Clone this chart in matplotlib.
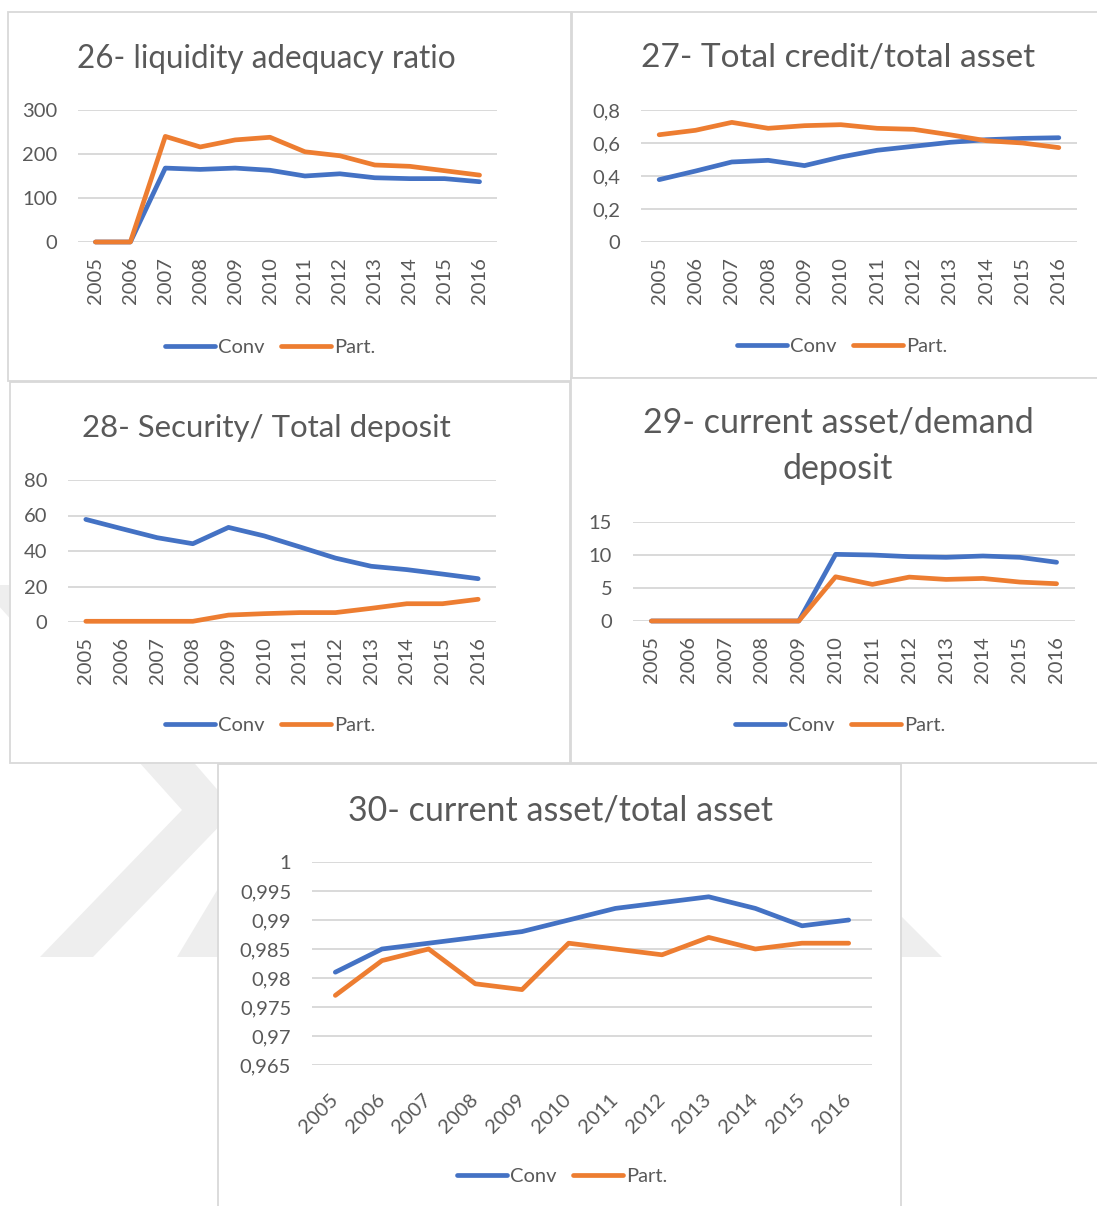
import matplotlib
matplotlib.use("Agg")
import matplotlib.pyplot as plt
from matplotlib.patches import Polygon, Rectangle

W, H = 1097, 1206
BLUE, ORANGE, GRID, TXT, BORDER, WM = "#4472C4", "#ED7D31", "#D9D9D9", "#595959", "#D9D9D9", "#EEEEEE"
plt.rcParams.update({"font.family": ["Lato", "DejaVu Sans"], "text.color": TXT})

YEARS = ["2005", "2006", "2007", "2008", "2009", "2010",
         "2011", "2012", "2013", "2014", "2015", "2016"]

# 26- liquidity adequacy ratio
LIQ_CONV = [0, 0, 168, 165, 168, 163, 150, 155, 146, 144, 144, 137]
LIQ_PART = [0, 0, 240, 216, 232, 238, 205, 196, 175, 172, 162, 152]
LIQ_TICKS = [0, 100, 200, 300]
LIQ_LABELS = ["0", "100", "200", "300"]

# 27- Total credit/total asset
CRED_CONV = [0.378, 0.43, 0.485, 0.495, 0.463, 0.515, 0.556, 0.58, 0.604, 0.62, 0.628, 0.632]
CRED_PART = [0.65, 0.677, 0.725, 0.689, 0.705, 0.711, 0.689, 0.683, 0.65, 0.614, 0.6, 0.572]
CRED_TICKS = [0, 0.2, 0.4, 0.6, 0.8]
CRED_LABELS = ["0", "0,2", "0,4", "0,6", "0,8"]

# 28- Security/ Total deposit
SEC_CONV = [57.8, 52.6, 47.5, 44.1, 53.3, 48.5, 42.3, 36.0, 31.4, 29.5, 27.0, 24.4]
SEC_PART = [0.4, 0.4, 0.4, 0.4, 3.9, 4.7, 5.3, 5.3, 7.7, 10.3, 10.3, 12.8]
SEC_TICKS = [0, 20, 40, 60, 80]
SEC_LABELS = ["0", "20", "40", "60", "80"]

# 29- current asset/demand deposit
DEM_CONV = [0, 0, 0, 0, 0, 10.1, 10.0, 9.75, 9.65, 9.85, 9.65, 8.9]
DEM_PART = [0, 0, 0, 0, 0, 6.7, 5.55, 6.65, 6.3, 6.45, 5.9, 5.65]
DEM_TICKS = [0, 5, 10, 15]
DEM_LABELS = ["0", "5", "10", "15"]

# 30- current asset/total asset
CUR_CONV = [0.981, 0.985, 0.986, 0.987, 0.988, 0.990, 0.992, 0.993, 0.994, 0.992, 0.989, 0.990]
CUR_PART = [0.977, 0.983, 0.985, 0.979, 0.978, 0.986, 0.985, 0.984, 0.987, 0.985, 0.986, 0.986]
CUR_TICKS = [0.965, 0.97, 0.975, 0.98, 0.985, 0.99, 0.995, 1.0]
CUR_LABELS = ["0,965", "0,97", "0,975", "0,98", "0,985", "0,99", "0,995", "1"]

TICK_FS = 14.5
fig = plt.figure(figsize=(W / 100, H / 100), dpi=100)


def fx(x):
    return x / W


def fy(y):
    return 1 - y / H


# background: faint watermark chevrons + white chart boxes
bg = fig.add_axes([0, 0, 1, 1])
bg.set_xlim(0, W); bg.set_ylim(H, 0); bg.axis("off")
bg.add_patch(Polygon([(-20, 585), (40, 585), (235, 810), (93, 957), (40, 957), (182, 810)],
                     facecolor=WM, edgecolor="none", zorder=1))
bg.add_patch(Polygon([(177, 957), (942, 957), (902, 917), (600, 917), (600, 790), (300, 752)],
                     facecolor=WM, edgecolor="none", zorder=1))
for x0, y0, x1, y1 in [(8, 12, 571, 381), (572, 12, 1102, 378), (10, 382, 570, 763),
                       (571, 378, 1102, 763), (218, 764, 901, 1212)]:
    bg.add_patch(Rectangle((x0, y0), x1 - x0, y1 - y0, facecolor="white",
                           edgecolor=BORDER, lw=1.3, zorder=2))


def chart(box, conv, part, ticks, labels, rot=90):
    x0, y0, x1, y1 = box
    ax = fig.add_axes([fx(x0), fy(y1), (x1 - x0) / W, (y1 - y0) / H])
    ax.patch.set_visible(False)
    xs = list(range(len(YEARS)))
    ax.plot(xs, conv, color=BLUE, lw=3.4, solid_capstyle="round", solid_joinstyle="round",
            clip_on=False, label="Conv", zorder=3)
    ax.plot(xs, part, color=ORANGE, lw=3.4, solid_capstyle="round", solid_joinstyle="round",
            clip_on=False, label="Part.", zorder=4)
    ax.set_xlim(-0.5, len(YEARS) - 0.5)
    ax.set_ylim(ticks[0], ticks[-1])
    ax.set_yticks(ticks, labels)
    ax.set_xticks(xs, YEARS)
    ax.grid(axis="y", color=GRID, lw=1.4)
    ax.set_axisbelow(True)
    for s in ax.spines.values():
        s.set_visible(False)
    ax.tick_params(length=0, labelsize=TICK_FS, labelcolor=TXT)
    ax.tick_params(axis="y", pad=15)
    if rot == 90:
        ax.tick_params(axis="x", rotation=90, pad=11)
    else:
        ax.tick_params(axis="x", pad=23)
        for lab in ax.get_xticklabels():
            lab.set_rotation(45); lab.set_ha("right"); lab.set_va("center")
            lab.set_rotation_mode("anchor")
    return ax


def title(x, y, s, size):
    fig.text(fx(x), fy(y), s, ha="center", va="baseline", fontsize=size, color=TXT)


def legend(ax, x, y):
    ax.legend(loc="center", bbox_to_anchor=(fx(x), fy(y)), bbox_transform=fig.transFigure,
              ncol=2, frameon=False, fontsize=TICK_FS, handlelength=2.5, handletextpad=0.15,
              columnspacing=0.8, labelcolor=TXT)


a26 = chart((78, 110, 497, 242), LIQ_CONV, LIQ_PART, LIQ_TICKS, LIQ_LABELS)
title(266, 68, "26- liquidity adequacy ratio", 22.7)
legend(a26, 270, 347)

a27 = chart((641, 110, 1077, 242), CRED_CONV, CRED_PART, CRED_TICKS, CRED_LABELS)
title(838, 67, "27- Total credit/total asset", 24)
legend(a27, 842, 346)

a28 = chart((68, 480, 496, 622), SEC_CONV, SEC_PART, SEC_TICKS, SEC_LABELS)
title(266, 437, "28- Security/ Total deposit", 22.4)
legend(a28, 270, 725)

a29 = chart((633, 522, 1075, 621), DEM_CONV, DEM_PART, DEM_TICKS, DEM_LABELS)
title(838, 433, "29- current asset/demand", 24.5)
title(838, 479, "deposit", 24.5)
legend(a29, 840, 725)

a30 = chart((312, 862, 872, 1065), CUR_CONV, CUR_PART, CUR_TICKS, CUR_LABELS, rot=45)
title(560, 820, "30- current asset/total asset", 24.5)
legend(a30, 562, 1176)

fig.savefig("out.png", dpi=100)
